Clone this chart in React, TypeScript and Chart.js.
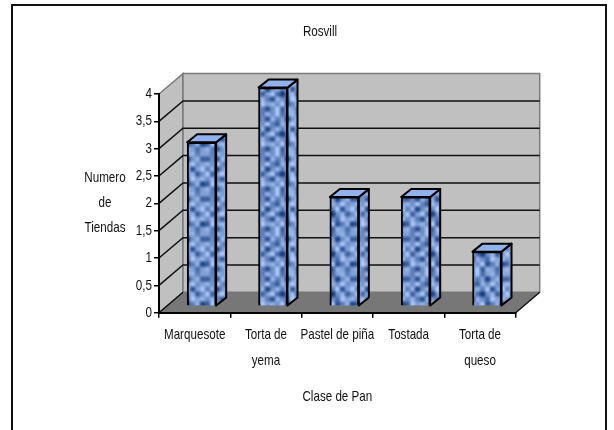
import React, { useEffect, useRef } from "react";
import { Chart, registerables } from "chart.js";

Chart.register(...registerables);

const categories = [["Marquesote"], ["Torta de", "yema"], ["Pastel de piña"], ["Tostada"], ["Torta de", "queso"]];
const tiendas = [3, 4, 2, 2, 1];
const chartTitle = "Rosvill";
const xTitle = "Clase de Pan";
const yTitleLines = ["Numero", "de", "Tiendas"];
const FONT = '"Liberation Sans", Arial, sans-serif';
const FONT_SIZE = 15;
const TEXT_SQUEEZE = 0.775;

// Oblique depth of the walls and of the columns standing on the floor.
const WALL_DX = 24;
const WALL_DY = -20.4;
const BAR_DX = 7;
const BAR_DY = -6.4;
const CAP_DX = 10;
const CAP_DY = -8;

// Shade cells of the mottled tile that fills the column faces (0 dark, 9 light).
const TILE = [
  [7, 5, 8, 6, 9, 4, 7, 8, 5, 7],
  [3, 6, 2, 8, 5, 7, 1, 6, 8, 3],
  [8, 6, 9, 5, 3, 8, 6, 9, 6, 7],
  [5, 8, 1, 6, 8, 5, 9, 2, 7, 9],
  [9, 3, 7, 9, 4, 0, 6, 8, 3, 6],
  [6, 8, 5, 2, 8, 6, 4, 9, 7, 8],
  [3, 9, 7, 8, 6, 9, 2, 5, 8, 1],
  [8, 5, 2, 6, 9, 3, 8, 7, 4, 7],
];
const CELL_W = 5;
const CELL_H = 5;

function makeTexture(lift: number): CanvasPattern | string {
  const rows = TILE.length;
  const cols = TILE[0].length;
  const w = cols * CELL_W;
  const h = rows * CELL_H;
  const c = document.createElement("canvas");
  c.width = w;
  c.height = h;
  const g = c.getContext("2d");
  if (!g) return "#7f9fdc";
  const img = g.createImageData(w, h);
  const smooth = (t: number) => t * t * (3 - 2 * t);
  for (let y = 0; y < h; y++) {
    for (let x = 0; x < w; x++) {
      const gx = x / CELL_W;
      const gy = y / CELL_H;
      const ix = Math.floor(gx);
      const iy = Math.floor(gy);
      const fx = smooth(gx - ix);
      const fy = smooth(gy - iy);
      const a = TILE[iy][ix];
      const b = TILE[iy][(ix + 1) % cols];
      const d = TILE[(iy + 1) % rows][ix];
      const e = TILE[(iy + 1) % rows][(ix + 1) % cols];
      const v = (a * (1 - fx) + b * fx) * (1 - fy) + (d * (1 - fx) + e * fx) * fy;
      const k = Math.min(1, Math.pow(v / 9, 1.3) + lift);
      const i = (y * w + x) * 4;
      img.data[i] = 22 + k * 150;
      img.data[i + 1] = 60 + k * 140;
      img.data[i + 2] = 125 + k * 125;
      img.data[i + 3] = 255;
    }
  }
  g.putImageData(img, 0, 0);
  return g.createPattern(c, "repeat") ?? "#7f9fdc";
}

const box3d = {
  id: "box3d",
  beforeDraw(chart: any) {
    const { ctx, chartArea: a, scales } = chart;
    const y = scales.y;
    const x0 = a.left, x1 = a.right, yTop = y.getPixelForValue(4), yBase = y.getPixelForValue(0);
    ctx.save();
    ctx.fillStyle = "#ffffff";
    ctx.fillRect(0, 0, chart.width, chart.height);
    ctx.strokeStyle = "#111111";
    ctx.lineWidth = 2;
    ctx.strokeRect(12, 5, 594, 430);

    // Side wall and back wall
    ctx.fillStyle = "#c0c0c0";
    ctx.strokeStyle = "#7a7a7a";
    ctx.lineWidth = 1.5;
    ctx.beginPath();
    ctx.moveTo(x0, yBase);
    ctx.lineTo(x0, yTop);
    ctx.lineTo(x0 + WALL_DX, yTop + WALL_DY);
    ctx.lineTo(x0 + WALL_DX, yBase + WALL_DY);
    ctx.closePath();
    ctx.fill();
    ctx.stroke();
    ctx.beginPath();
    ctx.rect(x0 + WALL_DX, yTop + WALL_DY, x1 - x0, yBase - yTop);
    ctx.fill();
    ctx.stroke();

    // Floor
    ctx.fillStyle = "#777777";
    ctx.beginPath();
    ctx.moveTo(x0, yBase);
    ctx.lineTo(x0 + WALL_DX, yBase + WALL_DY);
    ctx.lineTo(x1 + WALL_DX, yBase + WALL_DY);
    ctx.lineTo(x1, yBase);
    ctx.closePath();
    ctx.fill();

    // Gridlines wrap round both walls
    ctx.strokeStyle = "#111111";
    ctx.lineWidth = 1.5;
    for (const t of y.ticks) {
      if (t.value === 0 || t.value === 4) continue;
      const py = y.getPixelForValue(t.value);
      ctx.beginPath();
      ctx.moveTo(x0, py);
      ctx.lineTo(x0 + WALL_DX, py + WALL_DY);
      ctx.lineTo(x1 + WALL_DX, py + WALL_DY);
      ctx.stroke();
    }
    ctx.beginPath();
    ctx.moveTo(x0, yBase);
    ctx.lineTo(x0 + WALL_DX, yBase + WALL_DY);
    ctx.moveTo(x1, yBase);
    ctx.lineTo(x1 + WALL_DX, yBase + WALL_DY);
    ctx.stroke();

    // The vertical axis caption sits level, on three lines
    ctx.fillStyle = "#111111";
    ctx.font = `${FONT_SIZE}px ${FONT}`;
    ctx.textAlign = "center";
    ctx.textBaseline = "middle";
    yTitleLines.forEach((line, i) => ctx.fillText(line, 105, 178 + i * 25));
    ctx.restore();
  },
  beforeDatasetsDraw(chart: any) {
    const { ctx } = chart;
    const sideFill = makeTexture(0.06);
    ctx.save();
    ctx.translate(BAR_DX, BAR_DY);
    ctx.strokeStyle = "#000000";
    ctx.lineWidth = 2;
    ctx.lineJoin = "round";
    for (const bar of chart.getDatasetMeta(0).data) {
      const { x, y, base, width } = bar.getProps(["x", "y", "base", "width"], true);
      const r = x + width / 2;
      const l = x - width / 2;
      // Right-hand face
      ctx.fillStyle = sideFill;
      ctx.beginPath();
      ctx.moveTo(r, y);
      ctx.lineTo(r + CAP_DX, y + CAP_DY);
      ctx.lineTo(r + CAP_DX, base + CAP_DY);
      ctx.lineTo(r, base);
      ctx.closePath();
      ctx.fill();
      ctx.stroke();
      // Top face
      ctx.fillStyle = "#92b2ee";
      ctx.beginPath();
      ctx.moveTo(l, y);
      ctx.lineTo(l + CAP_DX, y + CAP_DY);
      ctx.lineTo(r + CAP_DX, y + CAP_DY);
      ctx.lineTo(r, y);
      ctx.closePath();
      ctx.fill();
      ctx.stroke();
    }
  },
  afterDatasetsDraw(chart: any) {
    chart.ctx.restore();
  },
};

export default function App() {
  const ref = useRef<HTMLCanvasElement>(null);
  useEffect(() => {
    document.body.style.margin = "0";
    const canvas = ref.current;
    const ctx = canvas?.getContext("2d") as any;
    if (!canvas || !ctx) return;

    // All labels are set in a horizontally condensed cut of the font.
    const plainFillText = CanvasRenderingContext2D.prototype.fillText;
    ctx.fillText = function (text: string, x: number, y: number) {
      this.save();
      this.translate(x, y);
      this.scale(TEXT_SQUEEZE, 1);
      plainFillText.call(this, text, 0, 0);
      this.restore();
    };

    const chart = new Chart(canvas, {
      type: "bar",
      data: {
        labels: categories,
        datasets: [
          {
            label: "Numero de Tiendas",
            data: tiendas,
            backgroundColor: makeTexture(0),
            borderColor: "#000000",
            borderWidth: 2,
            barThickness: 29,
          },
        ],
      },
      plugins: [box3d],
      options: {
        responsive: false,
        animation: false,
        layout: { padding: { left: 124.3, right: 98.3, top: 0, bottom: 0 } },
        plugins: {
          legend: { display: false },
          tooltip: { enabled: false },
          title: {
            display: true,
            text: chartTitle,
            color: "#111111",
            font: { family: FONT, size: FONT_SIZE, weight: "normal", lineHeight: 1.2 },
            padding: { top: 23, bottom: 53 },
          },
        },
        scales: {
          x: {
            afterFit: (s: any) => { s.height = 117.3; },
            grid: {
              drawOnChartArea: false,
              drawTicks: true,
              tickLength: 5,
              color: "#000000",
              lineWidth: 1.5,
            },
            border: { color: "#000000", width: 2 },
            ticks: {
              color: "#111111",
              padding: 5,
              maxRotation: 0,
              autoSkip: false,
              font: { family: FONT, size: FONT_SIZE, lineHeight: 1.68 },
            },
            title: {
              display: true,
              text: xTitle,
              color: "#111111",
              font: { family: FONT, size: FONT_SIZE, lineHeight: 1.2 },
              padding: { top: 0, bottom: 24 },
            },
          },
          y: {
            min: 0,
            max: 4,
            afterFit: (s: any) => { s.width = 34.7; },
            grid: {
              drawOnChartArea: false,
              drawTicks: true,
              tickLength: 5,
              color: "#000000",
              lineWidth: 1.5,
            },
            border: { color: "#000000", width: 2 },
            ticks: {
              stepSize: 0.5,
              color: "#111111",
              padding: 2,
              font: { family: FONT, size: FONT_SIZE },
              callback: (v: any) => String(v).replace(".", ","),
            },
          },
        },
      },
    });
    return () => {
      chart.destroy();
      delete ctx.fillText;
    };
  }, []);
  return (
    <canvas
      ref={ref}
      width={614}
      height={430}
      style={{ display: "block", width: 614, height: 430, position: "absolute", left: 0, top: 0 }}
    />
  );
}
